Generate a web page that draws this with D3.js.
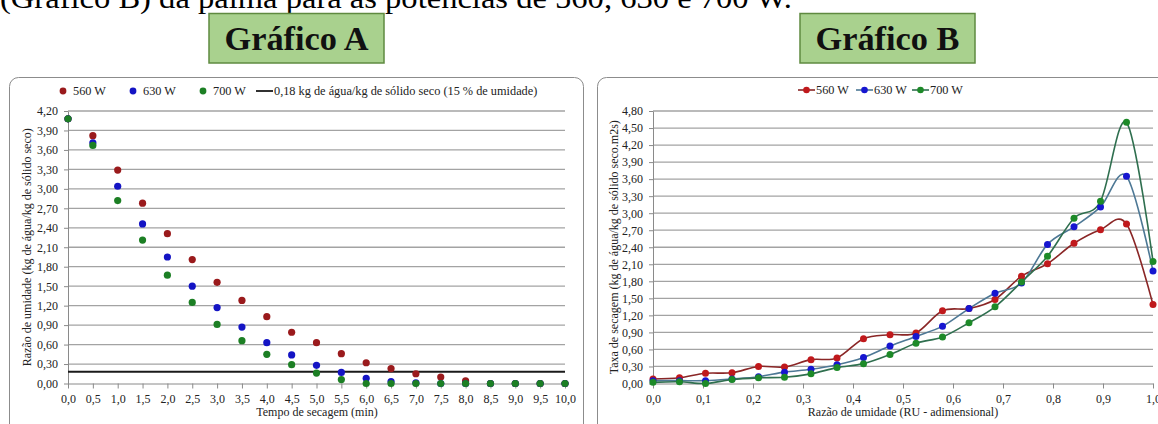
<!DOCTYPE html>
<html>
<head>
<meta charset="utf-8">
<script src="https://cdn.jsdelivr.net/npm/d3@7"></script>
<style>
  html, body { margin: 0; padding: 0; background: #fff; }
  svg { display: block; font-family: "Liberation Serif", "Times New Roman", serif; }
</style>
</head>
<body>
<svg id="fig" width="1158" height="424"></svg>
<script>
// ---------- Gráfico A: razão de umidade x tempo ----------
const tempoMin = [0.0, 0.5, 1.0, 1.5, 2.0, 2.5, 3.0, 3.5, 4.0, 4.5, 5.0,
                  5.5, 6.0, 6.5, 7.0, 7.5, 8.0, 8.5, 9.0, 9.5, 10.0];
const razao560 = [4.08, 3.82, 3.29, 2.78, 2.31, 1.91, 1.56, 1.28, 1.03, 0.79, 0.63,
                  0.46, 0.32, 0.23, 0.15, 0.10, 0.04, 0.00, 0.00, 0.00, 0.00];
const razao630 = [4.08, 3.71, 3.04, 2.46, 1.95, 1.50, 1.17, 0.87, 0.63, 0.44, 0.28,
                  0.17, 0.08, 0.03, 0.01, 0.00, 0.00, 0.00, 0.00, 0.00, 0.00];
const razao700 = [4.08, 3.67, 2.82, 2.21, 1.67, 1.25, 0.91, 0.66, 0.45, 0.29, 0.16,
                  0.06, 0.00, 0.00, 0.00, 0.00, 0.00, 0.00, 0.00, 0.00, 0.00];
const limiteUmidade = 0.18;
const yTicksA = [0.00, 0.30, 0.60, 0.90, 1.20, 1.50, 1.80, 2.10, 2.40, 2.70, 3.00,
                 3.30, 3.60, 3.90, 4.20];

// ---------- Gráfico B: taxa de secagem x razão de umidade ----------
const ru = [0.000, 0.053, 0.105, 0.158, 0.211, 0.263, 0.316, 0.368, 0.421, 0.474,
            0.526, 0.579, 0.632, 0.684, 0.737, 0.789, 0.842, 0.895, 0.947, 1.000];
const taxa560 = [0.08, 0.10, 0.18, 0.19, 0.30, 0.29, 0.42, 0.45, 0.79, 0.86,
                 0.89, 1.28, 1.32, 1.48, 1.89, 2.11, 2.47, 2.71, 2.81, 1.39];
const taxa630 = [0.05, 0.05, 0.05, 0.08, 0.12, 0.20, 0.25, 0.33, 0.46, 0.66,
                 0.83, 1.01, 1.32, 1.59, 1.77, 2.45, 2.76, 3.11, 3.65, 1.98];
const taxa700 = [0.02, 0.03, 0.00, 0.07, 0.10, 0.11, 0.17, 0.28, 0.35, 0.51,
                 0.71, 0.82, 1.07, 1.35, 1.79, 2.24, 2.91, 3.21, 4.60, 2.15];
const yTicksB = [0.00, 0.30, 0.60, 0.90, 1.20, 1.50, 1.80, 2.10, 2.40, 2.70, 3.00,
                 3.30, 3.60, 3.90, 4.20, 4.50, 4.80];
const xTicksB = [0.0, 0.1, 0.2, 0.3, 0.4, 0.5, 0.6, 0.7, 0.8, 0.9, 1.0];

const potencias = ["560 W", "630 W", "700 W"];

// colours
const dotA  = { "560 W": "#9a1a1c", "630 W": "#1414c4", "700 W": "#1c7f24" };
const dotB  = { "560 W": "#c0191c", "630 W": "#1616d0", "700 W": "#1d8a28" };
const lineB = { "560 W": "#8a2626", "630 W": "#4d7895", "700 W": "#2f6f4f" };
const gridColor = "#a3a3a3";

const svg = d3.select("#fig");
const comma1 = d => d3.format(".1f")(d).replace(".", ",");
const comma2 = d => d3.format(".2f")(d).replace(".", ",");

// running text above the figure (its upper half lies above the page edge)
svg.append("text")
  .attr("x", 0).attr("y", 8)
  .attr("font-size", 30)
  .attr("textLength", 792).attr("lengthAdjust", "spacingAndGlyphs")
  .attr("fill", "#000")
  .text("(Gráfico B) da palma para as potências de 560, 630 e 700 W.");

// green caption boxes
function badge(x, label) {
  const g = svg.append("g");
  g.append("rect")
    .attr("x", x).attr("y", 13.5).attr("width", 175).attr("height", 49.5)
    .attr("fill", "#a9d18e").attr("stroke", "#5f8a40").attr("stroke-width", 1.5);
  g.append("text")
    .attr("x", x + 87.5).attr("y", 50)
    .attr("text-anchor", "middle")
    .attr("font-size", 34).attr("font-weight", "bold")
    .attr("textLength", 144).attr("lengthAdjust", "spacingAndGlyphs")
    .attr("fill", "#111")
    .text(label);
}
badge(209, "Gráfico A");
badge(800, "Gráfico B");

// chart frames
svg.append("rect").attr("x", 9.5).attr("y", 77.5).attr("width", 574).attr("height", 380)
  .attr("rx", 9).attr("fill", "none").attr("stroke", "#8c8c8c").attr("stroke-width", 1);
svg.append("rect").attr("x", 597.5).attr("y", 77.5).attr("width", 600).attr("height", 380)
  .attr("rx", 9).attr("fill", "none").attr("stroke", "#8c8c8c").attr("stroke-width", 1);

function styleAxis(g) {
  g.attr("font-family", null).attr("font-size", null);
  g.selectAll("text").attr("font-size", 12).attr("fill", "#222");
  g.selectAll("line").attr("stroke", "#8a8a8a");
  g.select(".domain").attr("stroke", "#8a8a8a");
}

// ================= Gráfico A =================
const xA = d3.scaleLinear().domain([0, 10]).range([68, 565]);
const yA = d3.scaleLinear().domain([0, 4.2]).range([383.5, 111]);

const gA = svg.append("g");
gA.selectAll("line.grid").data(yTicksA.slice(1)).join("line")
  .attr("x1", xA(0)).attr("x2", xA(10))
  .attr("y1", d => yA(d)).attr("y2", d => yA(d))
  .attr("stroke", gridColor).attr("stroke-width", 1.3);

gA.append("g").attr("transform", `translate(0,${yA(0)})`)
  .call(d3.axisBottom(xA).tickValues(tempoMin).tickFormat(comma1)
        .tickSizeInner(5).tickSizeOuter(0).tickPadding(6))
  .call(styleAxis);
gA.append("g").attr("transform", `translate(${xA(0)},0)`)
  .call(d3.axisLeft(yA).tickValues(yTicksA).tickFormat(comma2)
        .tickSizeInner(4).tickSizeOuter(0).tickPadding(6))
  .call(styleAxis);

// 15 % moisture reference line
gA.append("line")
  .attr("x1", xA(0)).attr("x2", xA(10))
  .attr("y1", yA(limiteUmidade)).attr("y2", yA(limiteUmidade))
  .attr("stroke", "#1a1a1a").attr("stroke-width", 2);

const seriesA = [
  { name: "560 W", values: razao560 },
  { name: "630 W", values: razao630 },
  { name: "700 W", values: razao700 }
];
seriesA.forEach(s => {
  gA.append("g").selectAll("circle")
    .data(tempoMin.map((t, i) => [t, s.values[i]]))
    .join("circle")
    .attr("cx", d => xA(d[0])).attr("cy", d => yA(d[1]))
    .attr("r", 3.6).attr("fill", dotA[s.name]);
});

// axis titles A
gA.append("text").attr("x", 317).attr("y", 416).attr("text-anchor", "middle")
  .attr("font-size", 12).attr("fill", "#222").text("Tempo de secagem (min)");
gA.append("text").attr("transform", `translate(31,${(yA(0) + yA(4.2)) / 2}) rotate(-90)`)
  .attr("text-anchor", "middle").attr("font-size", 12).attr("fill", "#222")
  .text("Razão de umidade (kg de água/kg de sólido seco)");

// legend A
const legA = gA.append("g").attr("transform", "translate(0,91)");
const legAx = [63, 133, 203];
potencias.forEach((p, i) => {
  legA.append("circle").attr("cx", legAx[i]).attr("cy", 0).attr("r", 3.4).attr("fill", dotA[p]);
  legA.append("text").attr("x", legAx[i] + 10).attr("y", 4).attr("font-size", 12.3)
    .attr("fill", "#222").text(p);
});
legA.append("line").attr("x1", 256).attr("x2", 273).attr("y1", 0).attr("y2", 0)
  .attr("stroke", "#1a1a1a").attr("stroke-width", 1.8);
legA.append("text").attr("x", 274).attr("y", 4).attr("font-size", 12.3).attr("fill", "#222")
  .text("0,18 kg de água/kg de sólido seco (15 % de umidade)");

// ================= Gráfico B =================
const xB = d3.scaleLinear().domain([0, 1]).range([653, 1153]);
const yB = d3.scaleLinear().domain([0, 4.8]).range([383.5, 111]);

const gB = svg.append("g");
gB.selectAll("line.grid").data(yTicksB.slice(1)).join("line")
  .attr("x1", xB(0)).attr("x2", xB(1))
  .attr("y1", d => yB(d)).attr("y2", d => yB(d))
  .attr("stroke", gridColor).attr("stroke-width", 1.3);

gB.append("g").attr("transform", `translate(0,${yB(0)})`)
  .call(d3.axisBottom(xB).tickValues(xTicksB).tickFormat(comma1)
        .tickSizeInner(5).tickSizeOuter(0).tickPadding(6))
  .call(styleAxis);
gB.append("g").attr("transform", `translate(${xB(0)},0)`)
  .call(d3.axisLeft(yB).tickValues(yTicksB).tickFormat(comma2)
        .tickSizeInner(4).tickSizeOuter(0).tickPadding(6))
  .call(styleAxis);

const seriesB = [
  { name: "560 W", values: taxa560 },
  { name: "630 W", values: taxa630 },
  { name: "700 W", values: taxa700 }
];
const smooth = d3.line().x(d => xB(d[0])).y(d => yB(d[1])).curve(d3.curveCardinal.tension(0));
seriesB.forEach(s => {
  const pts = ru.map((r, i) => [r, s.values[i]]);
  gB.append("path").attr("d", smooth(pts)).attr("fill", "none")
    .attr("stroke", lineB[s.name]).attr("stroke-width", 1.6);
});
seriesB.forEach(s => {
  gB.append("g").selectAll("circle")
    .data(ru.map((r, i) => [r, s.values[i]]))
    .join("circle")
    .attr("cx", d => xB(d[0])).attr("cy", d => yB(d[1]))
    .attr("r", 3.5).attr("fill", dotB[s.name]);
});

// axis titles B
gB.append("text").attr("x", 903).attr("y", 416).attr("text-anchor", "middle")
  .attr("font-size", 12).attr("fill", "#222").text("Razão de umidade (RU - adimensional)");
gB.append("text").attr("transform", `translate(618,${(yB(0) + yB(4.8)) / 2}) rotate(-90)`)
  .attr("text-anchor", "middle").attr("font-size", 12).attr("fill", "#222")
  .text("Taxa de secagem (kg de água/kg de sólido seco.m2s)");

// legend B
const legB = gB.append("g").attr("transform", "translate(0,90)");
const legBx = [798, 856, 912];
potencias.forEach((p, i) => {
  legB.append("line").attr("x1", legBx[i]).attr("x2", legBx[i] + 17).attr("y1", 0).attr("y2", 0)
    .attr("stroke", lineB[p]).attr("stroke-width", 1.6);
  legB.append("circle").attr("cx", legBx[i] + 8.5).attr("cy", 0).attr("r", 3.3).attr("fill", dotB[p]);
  legB.append("text").attr("x", legBx[i] + 18).attr("y", 4).attr("font-size", 12.3)
    .attr("fill", "#222").text(p);
});
</script>
</body>
</html>
